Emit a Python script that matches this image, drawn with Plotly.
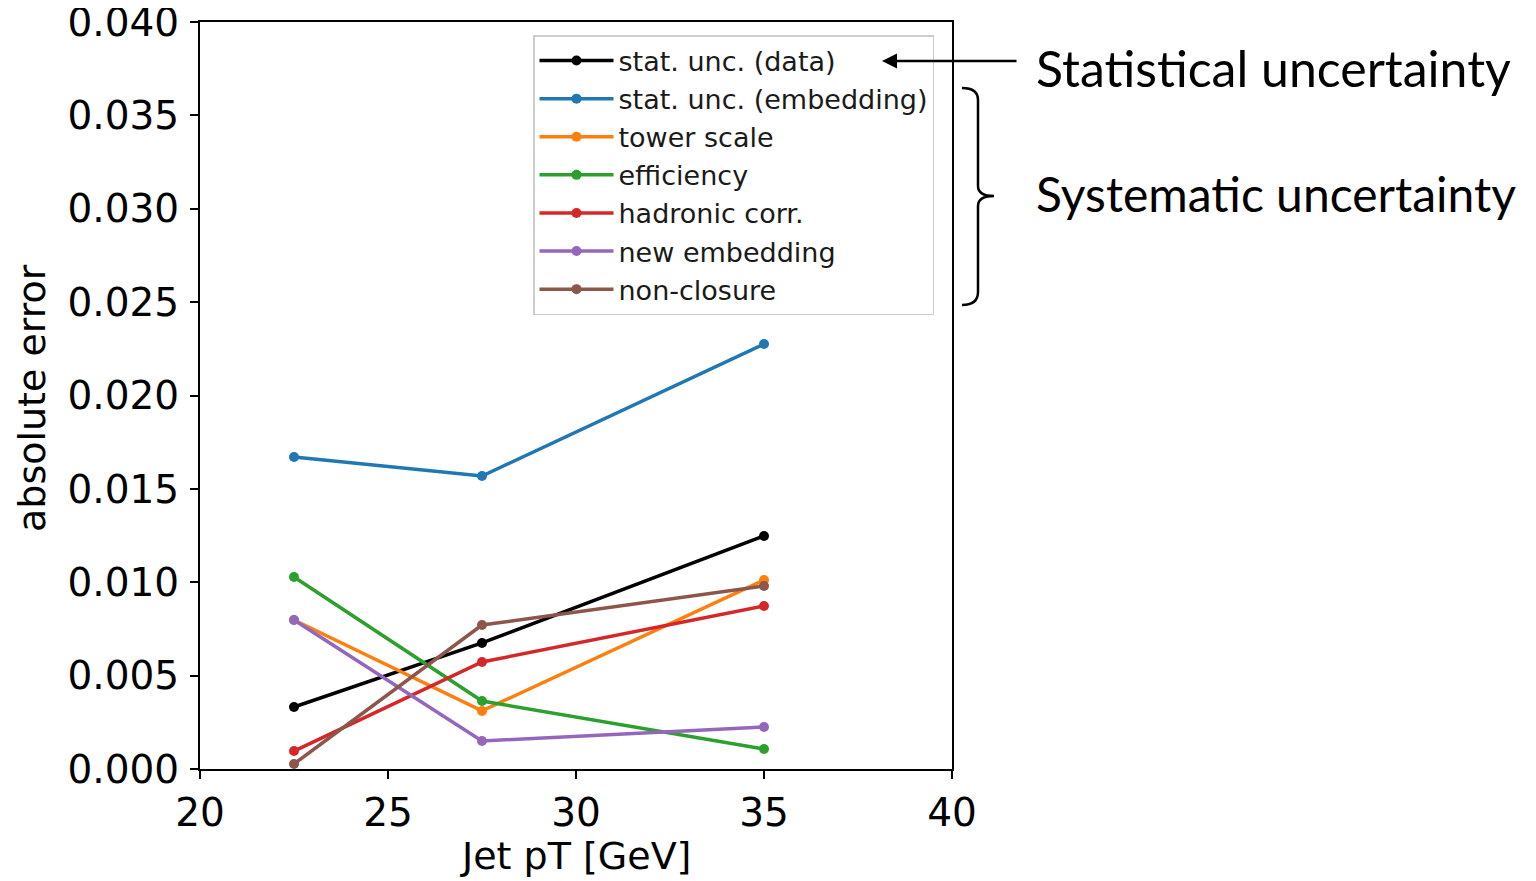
import plotly.graph_objects as go

jet_pt = [22.5, 27.5, 35.0]
series_names = ["stat. unc. (data)", "stat. unc. (embedding)", "tower scale", "efficiency",
                "hadronic corr.", "new embedding", "non-closure"]
stat_data = [0.00332, 0.00675, 0.01248]
stat_embedding = [0.01671, 0.01569, 0.02276]
tower_scale = [0.00798, 0.00311, 0.01012]
efficiency = [0.01028, 0.00364, 0.00107]
hadronic_corr = [0.00096, 0.00573, 0.00873]
new_embedding = [0.00798, 0.00150, 0.00225]
non_closure = [0.00027, 0.00771, 0.00980]
x_ticks = [20, 25, 30, 35, 40]
y_ticks = [0.000, 0.005, 0.010, 0.015, 0.020, 0.025, 0.030, 0.035, 0.040]

series_values = [stat_data, stat_embedding, tower_scale, efficiency, hadronic_corr, new_embedding, non_closure]
colors = ["#000000", "#1f77b4", "#ff7f0e", "#2ca02c", "#d62728", "#9467bd", "#8c564b"]

OFF = 8  # page body margin in the browser
W, H = 1536 - OFF, 881 - OFF
L, R, T, B = 200, 952, 22, 769  # plot area in screen pixels


def px(xp):
    return (xp - L) / (R - L)


def py(yp):
    return (B - yp) / (B - T)


fig = go.Figure()
for i, (name, vals, c) in enumerate(zip(series_names, series_values, colors)):
    fig.add_trace(go.Scatter(
        x=jet_pt, y=vals, name=name, mode="lines+markers",
        line=dict(color=c, width=3.5), marker=dict(color=c, size=10),
    ))

axis_font = dict(family="DejaVu Sans", size=39, color="#000000")
title_font = dict(family="DejaVu Sans", size=38, color="#000000")
fig.update_layout(
    width=W, height=H,
    margin=dict(l=L - OFF, r=W - (R - OFF), t=T - OFF, b=H - (B - OFF), pad=0, autoexpand=False),
    paper_bgcolor="white", plot_bgcolor="white",
    showlegend=True,
    legend=dict(
        x=px(533), y=py(35), xanchor="left", yanchor="top",
        font=dict(family="DejaVu Sans", size=27, color="#1a1a1a"),
        bgcolor="rgba(255,255,255,0.8)", bordercolor="#cccccc", borderwidth=1.5,
        tracegroupgap=0, itemwidth=74,
    ),
    xaxis=dict(
        range=[20, 40], tickvals=x_ticks, ticktext=[str(v) for v in x_ticks],
        showgrid=False, zeroline=False, showline=True, linecolor="black", linewidth=2,
        mirror=True, ticks="outside", ticklen=8, tickwidth=2, tickcolor="black",
        tickfont=axis_font, ticklabelstandoff=0, automargin=False, ticklabeloverflow="allow",
    ),
    yaxis=dict(
        range=[0, 0.04], tickvals=y_ticks, ticktext=[f"{v:.3f}" for v in y_ticks],
        showgrid=False, zeroline=False, showline=True, linecolor="black", linewidth=2,
        mirror=True, ticks="outside", ticklen=8, tickwidth=2, tickcolor="black",
        tickfont=axis_font, ticklabelstandoff=3, automargin=False, ticklabeloverflow="allow",
    ),
)

# axis titles
fig.add_annotation(x=px(575), y=py(856), xref="paper", yref="paper", xanchor="center", yanchor="middle",
                   text="Jet pT [GeV]", showarrow=False, font=title_font)
fig.add_annotation(x=px(32), y=py(398), xref="paper", yref="paper", xanchor="center", yanchor="middle",
                   text="absolute error", showarrow=False, font=title_font, textangle=-90)

# arrow pointing to the stat. unc. (data) legend entry
fig.add_annotation(
    x=px(882), y=py(61), xref="paper", yref="paper",
    ax=1018 - 882, ay=0, axref="pixel", ayref="pixel",
    text="", showarrow=True, arrowhead=2, arrowsize=1.2, arrowwidth=2.5, arrowcolor="black",
)
fig.add_annotation(
    x=px(1034), y=py(68), xref="paper", yref="paper", xanchor="left", yanchor="middle",
    text="Statistical uncertainty", showarrow=False,
    font=dict(family="Lato", size=50, color="#000000"),
)
fig.add_annotation(
    x=px(1034), y=py(194), xref="paper", yref="paper", xanchor="left", yanchor="middle",
    text="Systematic uncertainty", showarrow=False,
    font=dict(family="Lato", size=48, color="#000000"),
)

# curly brace grouping the systematic entries
path = (f"M {px(962)},{py(88)} Q {px(978)},{py(88)} {px(978)},{py(100)} "
        f"L {px(978)},{py(186)} Q {px(978)},{py(196)} {px(994)},{py(196)} "
        f"Q {px(978)},{py(196)} {px(978)},{py(206)} "
        f"L {px(978)},{py(292)} Q {px(978)},{py(305)} {px(962)},{py(305)}")
fig.add_shape(type="path", path=path, xref="paper", yref="paper",
              line=dict(color="black", width=2.5))

fig.write_html("out.html")
